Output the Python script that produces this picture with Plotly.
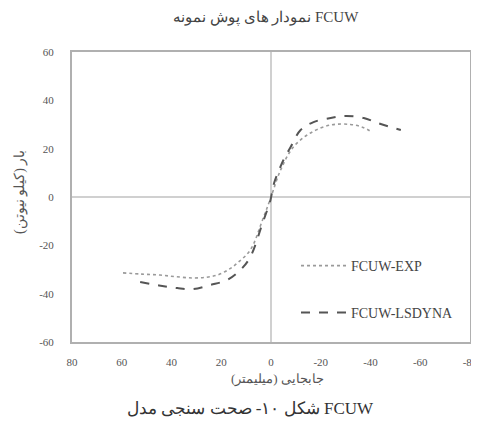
import plotly.graph_objects as go

title_text = "نمودار های پوش نمونه FCUW"
x_title = "جابجایی (میلیمتر)"
y_title = "بار (کیلو نیوتن)"
caption = "شکل ۱۰- صحت سنجی مدل FCUW"

exp_name = "FCUW-EXP"
exp_x = [59.5, 52.0, 44.6, 38.0, 31.3, 26.0, 21.6, 17.0, 13.5, 8.3, 3.4, 0.0, -3.8, -9.0, -15.9, -24.0, -32.0, -37.0, -40.5]
exp_y = [-31.4, -31.9, -32.3, -33.0, -33.5, -33.2, -32.3, -30.0, -27.3, -21.9, -9.5, 0.0, 11.0, 20.7, 26.5, 29.8, 30.0, 28.8, 26.9]

dyna_name = "FCUW-LSDYNA"
dyna_x = [52.6, 45.0, 37.7, 31.3, 24.4, 17.5, 12.3, 8.3, 3.4, 0.2, -1.0, -5.0, -7.9, -11.9, -17.1, -24.0, -30.0, -37.3, -42.9, -52.2]
dyna_y = [-35.2, -36.6, -37.7, -38.1, -36.4, -34.3, -30.2, -24.8, -10.8, -1.2, 5.0, 15.3, 20.7, 27.7, 31.0, 32.7, 33.5, 32.7, 30.6, 27.7]

x_ticks = [80, 60, 40, 20, 0, -20, -40, -60, -80]
y_ticks = [60, 40, 20, 0, -20, -40, -60]

serif = "Liberation Serif"

# the page body adds an 8px offset; the figure is sized so that the plot
# lands at the same pixels as in the reference (plot box 72..470 x 52..342)
OFF = 8
W, H = 479 - OFF, 423 - OFF
ML, MR, MT, MB = 72 - OFF, 9, 52 - OFF, 81
pw, ph = W - ML - MR, H - MT - MB


def px_to_paper(px, py):
    return (px - OFF - ML) / pw, (H - (py - OFF) - MB) / ph


fig = go.Figure()
fig.add_trace(go.Scatter(x=exp_x, y=exp_y, name=exp_name, mode="lines",
                         line=dict(color="#9a9a9a", width=1.6, dash="dot", shape="spline"),
                         legend="legend"))
fig.add_trace(go.Scatter(x=dyna_x, y=dyna_y, name=dyna_name, mode="lines",
                         line=dict(color="#555555", width=2, dash="dash", shape="spline"),
                         legend="legend2"))

axis_common = dict(showgrid=False, showline=True, linecolor="#b0b0b0", linewidth=2, mirror=True,
                   zeroline=True, zerolinecolor="#d0d0d0", zerolinewidth=1.5, automargin=False,
                   tickfont=dict(family=serif, size=11, color="#555555"), ticks="")

lx1, ly1 = px_to_paper(296, 266)
lx2, ly2 = px_to_paper(296, 313)
legend_font = dict(family=serif, size=14, color="#444444")

annots = []
for text, px, py, size, color, angle in [
    (title_text, 266, 17, 15, "#444444", 0),
    (x_title, 277, 379, 13, "#555555", 0),
    (y_title, 20, 192, 14, "#555555", -90),
    (caption, 250, 408, 17, "#333333", 0),
]:
    ax, ay = px_to_paper(px, py)
    annots.append(dict(text=text, x=ax, y=ay, xref="paper", yref="paper", showarrow=False,
                       xanchor="center", yanchor="middle", textangle=angle,
                       font=dict(family=serif, size=size, color=color)))

fig.update_layout(
    width=W, height=H,
    margin=dict(l=ML, r=MR, t=MT, b=MB, autoexpand=False),
    paper_bgcolor="white", plot_bgcolor="white",
    showlegend=True,
    xaxis=dict(range=[80, -80], tickvals=x_ticks, ticktext=[str(v) for v in x_ticks],
               ticklabelstandoff=9, **axis_common),
    yaxis=dict(range=[-60, 60], tickvals=y_ticks, ticktext=[str(v) for v in y_ticks],
               ticklabelstandoff=14, **axis_common),
    legend=dict(x=lx1, y=ly1, xanchor="left", yanchor="middle", bgcolor="rgba(0,0,0,0)",
                itemwidth=45, font=legend_font),
    legend2=dict(x=lx2, y=ly2, xanchor="left", yanchor="middle", bgcolor="rgba(0,0,0,0)",
                 itemwidth=45, font=legend_font),
    annotations=annots,
)

fig.write_html("out.html")
